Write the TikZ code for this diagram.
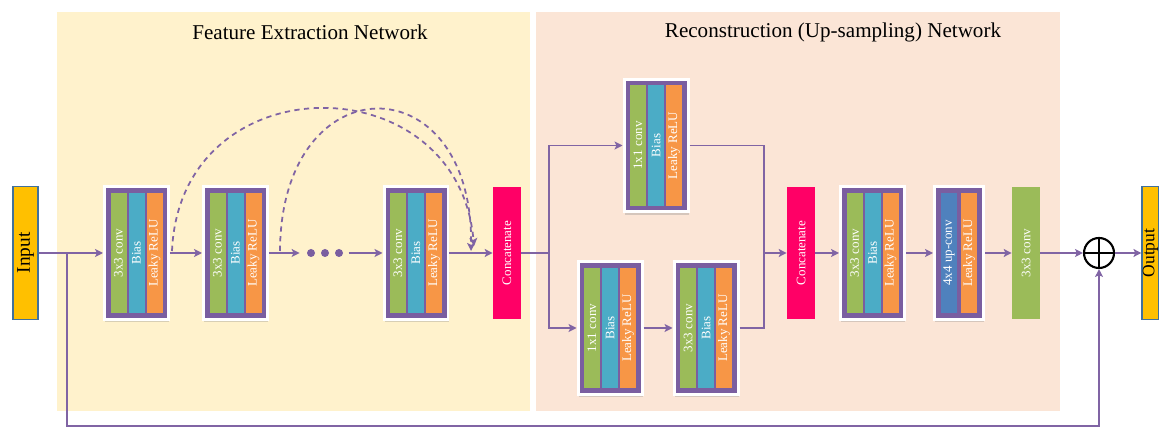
\documentclass[tikz,border=0pt]{standalone}
\usepackage{fontspec}
\setmainfont{Liberation Serif}
\usetikzlibrary{positioning,arrows.meta,shadows}

\definecolor{fenyellow}{RGB}{255,242,204}
\definecolor{recpeach}{RGB}{251,229,214}
\definecolor{linkpurple}{RGB}{128,100,164}
\definecolor{framepurple}{RGB}{122,94,160}
\definecolor{convgreen}{RGB}{155,187,89}
\definecolor{biasblue}{RGB}{75,172,198}
\definecolor{reluorange}{RGB}{247,150,70}
\definecolor{upblue}{RGB}{79,129,189}
\definecolor{catpink}{RGB}{255,0,102}
\definecolor{iogold}{RGB}{255,192,0}
\definecolor{ioborder}{RGB}{65,113,156}

\begin{document}
\begin{tikzpicture}[x=0.02cm,y=-0.02cm,
  >={Stealth[length=4.5pt,width=4.5pt,inset=1pt]},
  title/.style={font=\fontsize{12}{14}\selectfont},
  frame/.style={rectangle,fill=framepurple,draw=white,line width=0.06cm,
    minimum width=1.28cm,minimum height=2.66cm,
    drop shadow={opacity=0.3,shadow xshift=0.5pt,shadow yshift=-1.5pt}},
  strip/.style={rectangle,rotate=90,minimum width=2.42cm,minimum height=0.32cm,
    inner sep=0pt,text=white,font=\fontsize{7.4}{8}\selectfont},
  catbox/.style={rectangle,rotate=90,fill=catpink,minimum width=2.66cm,
    minimum height=0.56cm,inner sep=0pt,text=white,font=\fontsize{7.4}{8}\selectfont},
  io/.style={rectangle,rotate=90,fill=iogold,draw=ioborder,line width=0.7pt,
    minimum width=2.66cm,minimum height=0.5cm,inner sep=0pt,
    font=\fontsize{11}{12}\selectfont},
  dot/.style={circle,fill=framepurple,minimum size=0.16cm,inner sep=0pt},
  oplus/.style={circle,draw=black,line width=1.2pt,minimum size=0.6cm,inner sep=0pt},
  link/.style={draw=linkpurple,line width=1.1pt},
  skip/.style={draw=linkpurple,line width=1pt,dash pattern=on 3pt off 2.5pt}]

\path[use as bounding box,clip] (0,0) rectangle (1159,428);

\fill[fenyellow] (57,12) rectangle (530,411);
\fill[recpeach] (536,12) rectangle (1060,411);

\node[title] (fen) at (310,32) {Feature Extraction Network};
\node[title] (rec) at (833,32) {Reconstruction (Up-sampling) Network};

\node[io] (in)  at (25.5,253) {Input};
\node[io,minimum height=0.34cm,font=\fontsize{10}{11}\selectfont] (out) at (1150.5,253) {Output};

% feature extraction
\node[frame] (b1) at (136.5,253) {};
\node[strip,fill=convgreen]  (b1c) at (118.5,253) {3x3 conv};
\node[strip,fill=biasblue]   (b1b) at (136.5,253) {Bias};
\node[strip,fill=reluorange] (b1r) at (154.5,253) {Leaky ReLU};

\node[frame] (b2) at (235.5,253) {};
\node[strip,fill=convgreen]  (b2c) at (217.5,253) {3x3 conv};
\node[strip,fill=biasblue]   (b2b) at (235.5,253) {Bias};
\node[strip,fill=reluorange] (b2r) at (253.5,253) {Leaky ReLU};

\node[dot] (d1) at (311,253) {};
\node[dot] (d2) at (325,253) {};
\node[dot] (d3) at (339,253) {};

\node[frame] (b3) at (416,253) {};
\node[strip,fill=convgreen]  (b3c) at (398,253) {3x3 conv};
\node[strip,fill=biasblue]   (b3b) at (416,253) {Bias};
\node[strip,fill=reluorange] (b3r) at (434,253) {Leaky ReLU};

\node[catbox] (c1) at (507,253) {Concatenate};

% reconstruction
\node[frame] (t1) at (656,145.5) {};
\node[strip,fill=convgreen]  (t1c) at (638,145.5) {1x1 conv};
\node[strip,fill=biasblue]   (t1b) at (656,145.5) {Bias};
\node[strip,fill=reluorange] (t1r) at (674,145.5) {Leaky ReLU};

\node[frame] (ba) at (610,328) {};
\node[strip,fill=convgreen]  (bac) at (592,328) {1x1 conv};
\node[strip,fill=biasblue]   (bab) at (610,328) {Bias};
\node[strip,fill=reluorange] (bar) at (628,328) {Leaky ReLU};

\node[frame] (bb) at (706,328) {};
\node[strip,fill=convgreen]  (bbc) at (688,328) {3x3 conv};
\node[strip,fill=biasblue]   (bbb) at (706,328) {Bias};
\node[strip,fill=reluorange] (bbr) at (724,328) {Leaky ReLU};

\node[catbox] (c2) at (801,253) {Concatenate};

\node[frame] (r1) at (872.5,253) {};
\node[strip,fill=convgreen]  (r1c) at (854.5,253) {3x3 conv};
\node[strip,fill=biasblue]   (r1b) at (872.5,253) {Bias};
\node[strip,fill=reluorange] (r1r) at (890.5,253) {Leaky ReLU};

\node[frame,minimum width=0.98cm] (u1) at (959,253) {};
\node[strip,fill=upblue]     (u1u) at (949,253) {4x4 up-conv};
\node[strip,fill=reluorange] (u1r) at (969,253) {Leaky ReLU};

\node[catbox,fill=convgreen] (fin) at (1026,253) {3x3 conv};

\node[oplus] (sum) at (1099,253) {};
\draw[line width=1.2pt] (sum.north)--(sum.south) (sum.west)--(sum.east);

\coordinate (sk)  at (67,253);
\coordinate (skb) at (67,426);
\coordinate (sp)  at (549,253);
\coordinate (mg)  at (764,253);
\coordinate (s1)  at (172,251);
\coordinate (e1)  at (474,246);
\coordinate (s2)  at (280,251);
\coordinate (e2)  at (471,251);

\draw[link,->] (in)--(b1);
\draw[link,->] (b1)--(b2);
\draw[link,->,shorten >=4pt] (b2)--(d1);
\draw[link,->,shorten <=3pt] (d3)--(b3);
\draw[link,->] (b3)--(c1);

\draw[skip,->] (s1) .. controls (180,62) and (458,62) .. (e1);
\draw[skip,->] (s2) .. controls (281,62) and (474,62) .. (e2);

\draw[link] (c1)--(sp);
\draw[link,->] (sp) |- (t1);
\draw[link,->] (sp) |- (ba);
\draw[link,->] (ba)--(bb);
\draw[link] (t1) -| (mg);
\draw[link] (bb) -| (mg);
\draw[link,->] (mg)--(c2);
\draw[link,->] (c2)--(r1);
\draw[link,->] (r1)--(u1);
\draw[link,->] (u1)--(fin);
\draw[link,->] (fin)--(sum);
\draw[link,->] (sum)--(out);

\draw[link,->] (sk)--(skb) -| (sum);

\end{tikzpicture}
\end{document}
